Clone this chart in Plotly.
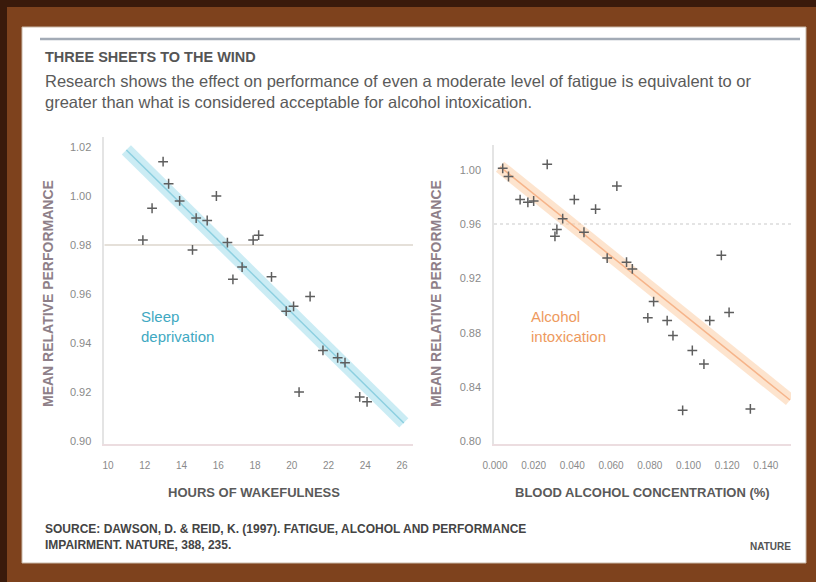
import plotly.graph_objects as go

W, H = 816, 582

# Sleep deprivation: mean relative performance by hours of wakefulness
wake_hours = [11.9, 12.4, 13.0, 13.3, 13.9, 14.6, 14.8, 15.4, 15.9, 16.5, 16.8, 17.3,
              17.9, 18.2, 18.9, 19.7, 20.1, 20.4, 21.0, 21.7, 22.5, 22.9, 23.7, 24.1]
wake_perf = [0.982, 0.995, 1.014, 1.005, 0.998, 0.978, 0.991, 0.990, 1.000, 0.981, 0.966, 0.971,
             0.982, 0.984, 0.967, 0.953, 0.955, 0.920, 0.959, 0.937, 0.934, 0.932, 0.918, 0.916]
wake_fit_x = [11.0, 26.1]
wake_fit_y = [1.0188, 0.9074]

# Alcohol intoxication: mean relative performance by blood alcohol concentration
bac = [0.004, 0.007, 0.013, 0.017, 0.020, 0.027, 0.031, 0.032, 0.035, 0.041, 0.046, 0.052,
       0.058, 0.063, 0.068, 0.071, 0.079, 0.082, 0.089, 0.092, 0.097, 0.102, 0.108, 0.111,
       0.117, 0.121, 0.132]
bac_perf = [1.001, 0.995, 0.978, 0.976, 0.977, 1.004, 0.951, 0.956, 0.964, 0.978, 0.954, 0.971,
            0.935, 0.988, 0.932, 0.927, 0.891, 0.903, 0.889, 0.878, 0.823, 0.867, 0.857, 0.889,
            0.937, 0.895, 0.824]
bac_fit_x = [0.0026, 0.1525]
bac_fit_y = [1.0022, 0.8306]

wake_ticks = [10, 12, 14, 16, 18, 20, 22, 24, 26]
bac_ticks = [0.000, 0.020, 0.040, 0.060, 0.080, 0.100, 0.120, 0.140]
bac_tick_text = ["0.000", "0.020", "0.040", "0.060", "0.080", "0.100", "0.120", "0.140"]
wake_perf_ticks = [0.90, 0.92, 0.94, 0.96, 0.98, 1.00, 1.02]
bac_perf_ticks = [0.80, 0.84, 0.88, 0.92, 0.96, 1.00]
wake_ref_level = 0.98
bac_ref_level = 0.96


def px(x):
    return x / W


def py(y):
    return 1 - y / H


TEAL = "#3fa9c2"
ORANGE = "#ee9a5e"
MARK = "#5e5e5e"

fig = go.Figure()

# left panel
fig.add_trace(go.Scatter(x=[9.8, 26.6], y=[wake_ref_level] * 2, mode="lines",
                         line=dict(color="#ddd6cc", width=1.5), xaxis="x", yaxis="y",
                         hoverinfo="skip"))
fig.add_trace(go.Scatter(x=wake_fit_x, y=wake_fit_y, mode="lines",
                         line=dict(color="rgba(160,220,235,0.55)", width=13), xaxis="x", yaxis="y"))
fig.add_trace(go.Scatter(x=wake_fit_x, y=wake_fit_y, mode="lines",
                         line=dict(color="#8ccfe0", width=1.5), xaxis="x", yaxis="y"))
fig.add_trace(go.Scatter(x=wake_hours, y=wake_perf, mode="markers", xaxis="x", yaxis="y",
                         marker=dict(symbol="cross-thin", size=7,
                                     line=dict(width=1.5, color=MARK))))

# right panel
fig.add_trace(go.Scatter(x=[-0.0005, 0.153], y=[bac_ref_level] * 2, mode="lines",
                         line=dict(color="#dcdcdc", width=1.5, dash="dot"), xaxis="x2", yaxis="y2",
                         hoverinfo="skip"))
fig.add_trace(go.Scatter(x=bac_fit_x, y=bac_fit_y, mode="lines",
                         line=dict(color="rgba(252,205,165,0.55)", width=13), xaxis="x2", yaxis="y2"))
fig.add_trace(go.Scatter(x=bac_fit_x, y=bac_fit_y, mode="lines",
                         line=dict(color="#f6b48a", width=1.5), xaxis="x2", yaxis="y2"))
fig.add_trace(go.Scatter(x=bac, y=bac_perf, mode="markers", xaxis="x2", yaxis="y2",
                         marker=dict(symbol="cross-thin", size=7,
                                     line=dict(width=1.5, color=MARK))))

tickfont = dict(family="Liberation Sans, Arial, sans-serif", size=10, color="#8a8a8a")
ytickfont = dict(family="Liberation Sans, Arial, sans-serif", size=11, color="#8a8a8a")
common_x = dict(showgrid=False, zeroline=False, showline=True, linecolor="#ecdde0", linewidth=1.5,
                ticks="", tickfont=tickfont, ticklabelstandoff=12, automargin=False)
common_y = dict(showgrid=False, zeroline=False, showline=True, linecolor="#e4e4e4", linewidth=1.5,
                ticks="", tickfont=ytickfont, ticklabelstandoff=9, automargin=False)

fig.update_layout(
    width=W, height=H,
    margin=dict(l=0, r=0, t=0, b=0, pad=0, autoexpand=False),
    paper_bgcolor="#3a1a0b",
    plot_bgcolor="rgba(0,0,0,0)",
    showlegend=False,
    font=dict(family="Liberation Sans, Arial, sans-serif"),
    xaxis=dict(domain=[px(104.3), px(413)], range=[9.8, 26.6], tickvals=wake_ticks,
               anchor="y", **common_x),
    yaxis=dict(domain=[py(443.5), py(137.2)], range=[0.899, 1.024], tickvals=wake_perf_ticks,
               tickformat=".2f", anchor="x", **common_y),
    xaxis2=dict(domain=[px(494), px(791)], range=[-0.0005, 0.153], tickvals=bac_ticks,
                ticktext=bac_tick_text, anchor="y2", **common_x),
    yaxis2=dict(domain=[py(443.6), py(145.25)], range=[0.7985, 1.018], tickvals=bac_perf_ticks,
                tickformat=".2f", anchor="x2", **common_y),
)

# wooden frame and white card
fig.add_shape(type="rect", xref="paper", yref="paper", x0=px(7), x1=1, y0=0, y1=py(7),
              fillcolor="#7e421d", line_width=0, layer="below")
fig.add_shape(type="rect", xref="paper", yref="paper", x0=px(22), x1=px(806), y0=py(563), y1=py(27),
              fillcolor="#ffffff", line=dict(color="#c9b8a8", width=1), layer="below")
fig.add_shape(type="line", xref="paper", yref="paper", x0=px(40), x1=px(800), y0=py(39), y1=py(39),
              line=dict(color="#a3abb6", width=2.5))

fig.add_annotation(x=px(43), y=py(57), xref="paper", yref="paper", xanchor="left", yanchor="middle",
                   text="<b>THREE SHEETS TO THE WIND</b>", showarrow=False,
                   font=dict(size=14.5, color="#555555"))
fig.add_annotation(x=px(43), y=py(91), xref="paper", yref="paper", xanchor="left", yanchor="middle",
                   align="left", showarrow=False,
                   text="Research shows the effect on performance of even a moderate level of fatigue is equivalent to or<br>"
                        "greater than what is considered acceptable for alcohol intoxication.",
                   font=dict(size=16.5, color="#5a5a5a"))

fig.add_annotation(x=px(139), y=py(326), xref="paper", yref="paper", xanchor="left", yanchor="middle",
                   align="left", showarrow=False, text="Sleep<br>deprivation",
                   font=dict(size=15, color=TEAL))
fig.add_annotation(x=px(529), y=py(326), xref="paper", yref="paper", xanchor="left", yanchor="middle",
                   align="left", showarrow=False, text="Alcohol<br>intoxication",
                   font=dict(size=15, color=ORANGE))

axis_title_font = dict(size=13, color="#5a5a5a")
fig.add_annotation(x=px(254), y=py(492), xref="paper", yref="paper", showarrow=False,
                   xanchor="center", yanchor="middle",
                   text="<b>HOURS OF WAKEFULNESS</b>", font=axis_title_font)
fig.add_annotation(x=px(642), y=py(492), xref="paper", yref="paper", showarrow=False,
                   xanchor="center", yanchor="middle",
                   text="<b>BLOOD ALCOHOL CONCENTRATION (%)</b>", font=axis_title_font)
ytitle_font = dict(size=14, color="#8e7f88")
fig.add_annotation(x=px(48), y=py(294), xref="paper", yref="paper", showarrow=False, textangle=-90,
                   xanchor="center", yanchor="middle",
                   text="<b>MEAN RELATIVE PERFORMANCE</b>", font=ytitle_font)
fig.add_annotation(x=px(436), y=py(294), xref="paper", yref="paper", showarrow=False, textangle=-90,
                   xanchor="center", yanchor="middle",
                   text="<b>MEAN RELATIVE PERFORMANCE</b>", font=ytitle_font)

src_font = dict(size=12, color="#444444")
fig.add_annotation(x=px(43), y=py(537), xref="paper", yref="paper", xanchor="left", yanchor="middle",
                   align="left", showarrow=False,
                   text="<b>SOURCE: DAWSON, D. &amp; REID, K. (1997). FATIGUE, ALCOHOL AND PERFORMANCE<br>"
                        "IMPAIRMENT. NATURE, 388, 235.</b>",
                   font=src_font)
fig.add_annotation(x=px(793), y=py(546), xref="paper", yref="paper", xanchor="right", yanchor="middle",
                   showarrow=False, text="<b>NATURE</b>", font=dict(size=10, color="#555555"))

fig.write_html("out.html")
